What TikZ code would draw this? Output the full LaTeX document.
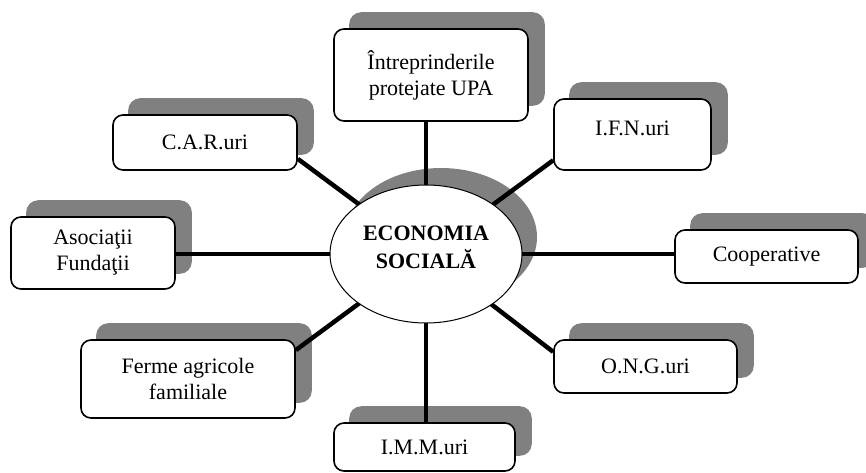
\documentclass[tikz,border=0pt]{standalone}
\usepackage{fontspec}
\setmainfont{Liberation Serif}
\usetikzlibrary{shapes.geometric,calc}
\pgfdeclarelayer{shadowlayer}
\pgfdeclarelayer{linelayer}
\pgfsetlayers{shadowlayer,linelayer,main}
\definecolor{shadowgray}{HTML}{808080}
\tikzset{
  box/.style={draw=black, fill=white, line width=1.6pt, rounded corners=10pt,
    inner sep=0pt, align=center, font=\fontsize{22}{26}\selectfont},
  conn/.style={line width=4.5pt, black},
  shade/.style={fill=shadowgray, rounded corners=12pt}
}
\begin{document}
\begin{tikzpicture}[x=1pt,y=-1pt]
\useasboundingbox (0,0) rectangle (866,472);
% boxes
\node[box, minimum width=194pt, minimum height=92pt] (upa) at (431,75) {Întreprinderile\\protejate UPA};
\node[box, minimum width=184pt, minimum height=55pt] (car) at (205,142.5) {C.A.R.uri};
\node[box, minimum width=157pt, minimum height=71pt] (ifn) at (632.5,134.5) {};
\node[font=\fontsize{22}{26}\selectfont, inner sep=0pt] (ifnt) at (632.5,128) {I.F.N.uri};
\node[box, minimum width=164pt, minimum height=72pt] (asoc) at (93,253) {Asociaţii\\Fundaţii};
\node[box, minimum width=183pt, minimum height=53pt] (coop) at (766.5,256.5) {Cooperative};
\node[box, minimum width=214pt, minimum height=78pt] (ferme) at (188,379) {Ferme agricole\\familiale};
\node[box, minimum width=183pt, minimum height=53pt] (ong) at (645.5,366.5) {O.N.G.uri};
\node[box, minimum width=181pt, minimum height=48pt] (imm) at (424.5,447) {I.M.M.uri};
% centre
\node[draw=black, fill=white, ellipse, line width=1pt, inner sep=0pt,
  minimum width=192pt, minimum height=138pt] (e) at (426,254) {};
\node[align=center, inner sep=0pt, font=\fontsize{22}{28}\selectfont\bfseries] (et) at (426,247) {ECONOMIA\\SOCIALĂ};
% shadows
\begin{pgfonlayer}{shadowlayer}
\foreach \n in {upa,car,ifn,asoc,coop,ferme,ong,imm}{
  \fill[shade] ([shift={(16pt,16pt)}]\n.south west) rectangle ([shift={(16pt,16pt)}]\n.north east);
}
\fill[shadowgray] ([shift={(15pt,17pt)}]e.center) ellipse [x radius=96pt, y radius=69pt];
\end{pgfonlayer}
% connectors
\begin{pgfonlayer}{linelayer}
\draw[conn] (e.center) -- (e.center |- upa.south);
\draw[conn] (e.center) -- (e.center |- imm.north);
\draw[conn] (e.center) -- (e.center -| asoc.east);
\draw[conn] (e.center) -- (e.center -| coop.west);
\draw[conn] (e.center) -- (car.-10);
\draw[conn] (e.center) -- (ifn.198);
\draw[conn] (e.center) -- (ong.171);
\draw[conn] (e.center) -- (ferme.15);
\end{pgfonlayer}
\end{tikzpicture}
\end{document}
